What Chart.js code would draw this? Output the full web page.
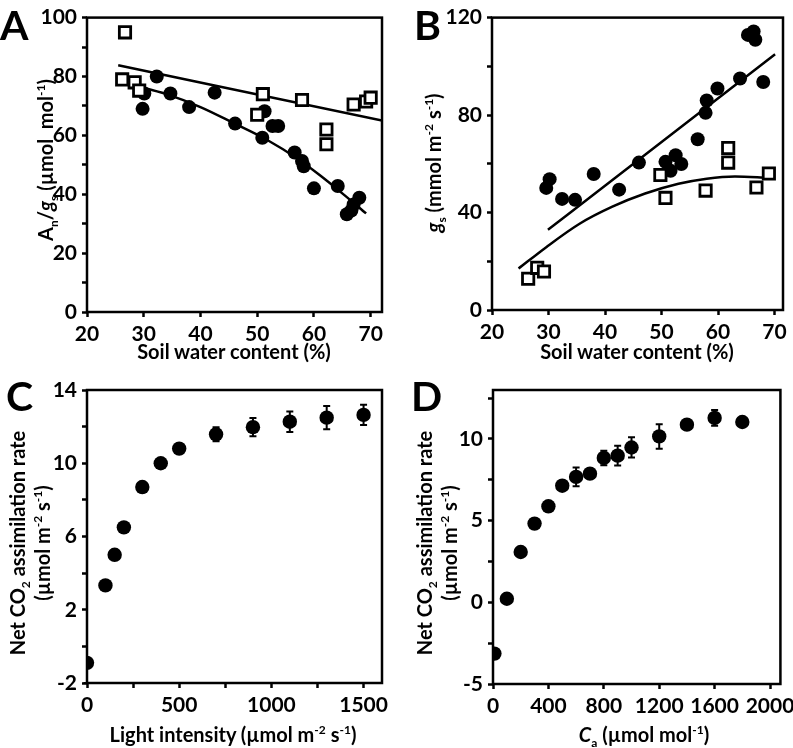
<!DOCTYPE html>
<html>
<head>
<meta charset="utf-8">
<script src="https://cdn.jsdelivr.net/npm/chart.js@4.4.1/dist/chart.umd.min.js"></script>
<style>
html, body { margin: 0; padding: 0; background: #fff; }
body { width: 793px; height: 748px; overflow: hidden; position: relative; font-family: Lato, 'Open Sans', sans-serif; font-weight: bold; color: #000; }
canvas { position: absolute; }
.lbl { position: absolute; white-space: nowrap; font-size: 20px; line-height: 1; }
.two { text-align: center; line-height: 25px; }
.rot { transform: translate(-50%, -50%) rotate(-90deg); }
.hz { transform: translate(-50%, -50%); }
.panel { position: absolute; font-size: 41px; line-height: 1; }
sub, sup { font-size: 0.6em; line-height: 0; }
</style>
</head>
<body>
<canvas id="chartA" width="400" height="372" style="left:0;top:0"></canvas>
<canvas id="chartB" width="400" height="372" style="left:400px;top:0"></canvas>
<canvas id="chartC" width="400" height="378" style="left:0;top:370px"></canvas>
<canvas id="chartD" width="400" height="378" style="left:400px;top:370px"></canvas>

<div class="panel" style="left:0;top:4px">A</div>
<div class="panel" style="left:414px;top:4px">B</div>
<div class="panel" style="left:6px;top:375px">C</div>
<div class="panel" style="left:411px;top:375px">D</div>

<div class="lbl rot" style="left:45px;top:160px">A<sub>n</sub>/<i>g</i><sub>s</sub> (µmol&nbsp; mol<sup>-1</sup>)</div>
<div class="lbl hz" style="left:234px;top:351px">Soil water content (%)</div>
<div class="lbl rot" style="left:433px;top:163px"><i>g</i><sub>s</sub> (mmol m<sup>-2</sup> s<sup>-1</sup>)</div>
<div class="lbl hz" style="left:637px;top:351px">Soil water content (%)</div>
<div class="lbl two rot" style="left:30px;top:543px">Net CO<sub>2</sub> assimilation rate<br>(µmol m<sup>-2</sup> s<sup>-1</sup>)</div>
<div class="lbl hz" style="left:233px;top:734px">Light intensity (µmol m<sup>-2</sup> s<sup>-1</sup>)</div>
<div class="lbl two rot" style="left:437px;top:543px">Net CO<sub>2</sub> assimilation rate<br>(µmol m<sup>-2</sup> s<sup>-1</sup>)</div>
<div class="lbl hz" style="left:644px;top:734px"><i>C</i><sub>a</sub> (µmol mol<sup>-1</sup>)</div>

<script>
// panel A: An/gs vs soil water content
const swcCirclesA = [29.8, 30.1, 32.3, 34.7, 38.0, 42.5, 46.1, 50.9, 51.3, 52.7, 53.7, 56.6, 57.9, 58.2, 60.0, 64.2, 65.8, 66.6, 67.0, 68.0];
const ratioCircles = [69, 74.2, 80, 74.2, 69.6, 74.5, 64, 59.2, 68.2, 63.2, 63.2, 54.2, 51.3, 49.5, 42, 42.8, 33.2, 34.5, 36.5, 38.8];
const swcSquaresA = [26.7, 26.2, 28.4, 29.2, 50.0, 51.0, 57.9, 62.2, 62.2, 67.0, 69.2, 70.0];
const ratioSquares = [95, 79, 78, 75.2, 67, 74, 72, 62, 57, 70.5, 71.5, 72.8];
const fitSquaresAx = [25.5, 72];
const fitSquaresAy = [83.8, 65.0];
const fitCirclesAx = [25.5, 30, 34, 40, 45.8, 51.7, 57, 61, 65, 69.2];
const fitCirclesAy = [78, 76.1, 74, 69.6, 64.2, 58.5, 52.2, 46.5, 40.3, 33.5];

// panel B: gs vs soil water content
const swcCirclesB = [29.6, 30.2, 32.4, 34.7, 38.0, 42.5, 46.0, 50.7, 51.6, 52.5, 53.5, 56.4, 57.8, 58.0, 59.9, 63.9, 65.3, 66.3, 66.6, 68.0];
const gsCircles = [50.1, 53.7, 45.6, 45.2, 55.8, 49.4, 60.5, 60.8, 57.1, 63.5, 59.9, 70.1, 80.9, 86.0, 90.9, 95.0, 112.9, 114.3, 110.9, 93.6];
const swcSquaresB = [26.4, 28.0, 29.2, 49.8, 50.7, 57.8, 61.8, 61.8, 66.8, 69.0];
const gsSquares = [12.8, 17.3, 15.8, 55.4, 46, 49, 66.5, 60.5, 50.3, 56];
const fitCirclesBx = [29.9, 70.1];
const fitCirclesBy = [32.9, 105];
const fitSquaresBx = [24.7, 29.6, 35.5, 41.3, 47.1, 53, 58, 63, 68.9];
const fitSquaresBy = [17, 25.8, 35.4, 42.4, 47.8, 51.8, 53.9, 54.8, 54.2];

// panel C: light response
const light = [0, 100, 150, 200, 300, 400, 500, 700, 900, 1100, 1300, 1500];
const rateLight = [-0.9, 3.33, 5.0, 6.5, 8.7, 10.0, 10.8, 11.58, 11.97, 12.27, 12.49, 12.64];
const errLightLow = [1.1, 0, 0, 0, 0, 0, 0, 0.38, 0.5, 0.56, 0.64, 0.55];
const errLightHigh = [0, 0, 0, 0, 0, 0, 0, 0.38, 0.5, 0.56, 0.64, 0.55];

// panel D: CO2 response
const ca = [10, 100, 200, 300, 400, 500, 600, 700, 800, 900, 1000, 1200, 1400, 1600, 1800];
const rateCa = [-3.14, 0.22, 3.08, 4.82, 5.88, 7.14, 7.68, 7.88, 8.84, 8.98, 9.48, 10.16, 10.88, 11.29, 11.04];
const errCa = [0, 0, 0, 0, 0, 0, 0.57, 0, 0.44, 0.6, 0.62, 0.75, 0, 0.48, 0];

// tick marks and which of them carry a label
const ticksSwc = [20, 30, 40, 50, 60, 70];
const ticksA = [0, 10, 20, 30, 40, 50, 60, 70, 80, 90, 100];
const labelsA = [0, 20, 40, 60, 80, 100];
const ticksB = [0, 20, 40, 60, 80, 100, 120];
const labelsB = [0, 40, 80, 120];
const ticksLight = [0, 250, 500, 750, 1000, 1250, 1500];
const labelsLight = [0, 500, 1000, 1500];
const ticksRateC = [-2, 0, 2, 4, 6, 8, 10, 12, 14];
const labelsRateC = [-2, 2, 6, 10, 14];
const ticksCa = [0, 400, 800, 1200, 1600, 2000];
const ticksRateD = [-5, -2.5, 0, 2.5, 5, 7.5, 10, 12.5];
const labelsRateD = [-5, 0, 5, 10];

const pts = (xs, ys) => xs.map((x, i) => ({ x: x, y: ys[i] }));

const frameBox = {
    id: 'frameBox',
    afterDraw(chart) {
        const a = chart.chartArea;
        const ctx = chart.ctx;
        ctx.save();
        ctx.strokeStyle = '#000';
        ctx.lineWidth = 2.5;
        ctx.strokeRect(a.left, a.top, a.right - a.left, a.bottom - a.top);
        ctx.restore();
    }
};

const errorBars = {
    id: 'errorBars',
    beforeDatasetsDraw(chart, args, opts) {
        if (!opts.low) return;
        const ctx = chart.ctx;
        const xs = chart.scales.x, ys = chart.scales.y;
        ctx.save();
        ctx.strokeStyle = '#000';
        ctx.lineWidth = 2;
        chart.data.datasets[0].data.forEach((p, i) => {
            const lo = opts.low[i], hi = opts.high[i];
            if (!lo && !hi) return;
            const px = xs.getPixelForValue(p.x);
            const y1 = ys.getPixelForValue(p.y - lo);
            const y2 = ys.getPixelForValue(p.y + hi);
            ctx.beginPath();
            ctx.moveTo(px, y1);
            ctx.lineTo(px, y2);
            if (lo) { ctx.moveTo(px - 3.5, y1); ctx.lineTo(px + 3.5, y1); }
            if (hi) { ctx.moveTo(px - 3.5, y2); ctx.lineTo(px + 3.5, y2); }
            ctx.stroke();
        });
        ctx.restore();
    }
};

function axis(min, max, ticks, labels, fit) {
    return {
        type: 'linear',
        min: min,
        max: max,
        afterFit: fit,
        afterBuildTicks: s => { s.ticks = ticks.map(v => ({ value: v })); },
        grid: { drawOnChartArea: false, drawTicks: true, tickLength: 5, tickWidth: 2.5, color: '#000' },
        border: { display: false },
        ticks: {
            autoSkip: false,
            maxRotation: 0,
            color: '#000',
            padding: 5,
            font: { family: 'Lato', size: 21, weight: 'bold' },
            callback: v => labels.includes(v) ? v : ''
        }
    };
}

function circles(data, r) {
    return { type: 'scatter', data: data, pointStyle: 'circle', pointRadius: r, pointBackgroundColor: '#000', pointBorderColor: '#000', pointBorderWidth: 0, order: 1 };
}
function squares(data) {
    return { type: 'scatter', data: data, pointStyle: 'rect', pointRadius: 8, pointBackgroundColor: '#fff', pointBorderColor: '#000', pointBorderWidth: 2.8, order: 1 };
}
function fitLine(data) {
    return { type: 'line', data: data, borderColor: '#000', borderWidth: 2.5, pointRadius: 0, cubicInterpolationMode: 'monotone', fill: false, order: 2 };
}

function makeChart(id, datasets, xAxis, yAxis, pad, errs) {
    const ctx = document.getElementById(id).getContext('2d');
    return new Chart(ctx, {
        type: 'scatter',
        data: { datasets: datasets },
        options: {
            responsive: false,
            animation: false,
            layout: { padding: pad },
            plugins: { legend: { display: false }, tooltip: { enabled: false }, errorBars: errs || {} },
            scales: { x: xAxis, y: yAxis }
        },
        plugins: [frameBox, errorBars]
    });
}

makeChart('chartA',
    [squares(pts(swcSquaresA, ratioSquares)), circles(pts(swcCirclesA, ratioCircles), 7),
     fitLine(pts(fitSquaresAx, fitSquaresAy)), fitLine(pts(fitCirclesAx, fitCirclesAy))],
    axis(20, 72, ticksSwc, ticksSwc, s => { s.height = 60; }),
    axis(0, 100, ticksA, labelsA, s => { s.width = 87; }),
    { top: 16, right: 18, left: 0, bottom: 0 });

makeChart('chartB',
    [squares(pts(swcSquaresB, gsSquares)), circles(pts(swcCirclesB, gsCircles), 7),
     fitLine(pts(fitCirclesBx, fitCirclesBy)), fitLine(pts(fitSquaresBx, fitSquaresBy))],
    axis(20, 71.5, ticksSwc, ticksSwc, s => { s.height = 62; }),
    axis(0, 120, ticksB, labelsB, s => { s.width = 92; }),
    { top: 15, right: 17, left: 0, bottom: 0 });

makeChart('chartC',
    [circles(pts(light, rateLight), 7.2)],
    axis(0, 1600, ticksLight, labelsLight, s => { s.height = 65; }),
    axis(-2, 14, ticksRateC, labelsRateC, s => { s.width = 87; }),
    { top: 20, right: 18, left: 0, bottom: 0 },
    { low: errLightLow, high: errLightHigh });

makeChart('chartD',
    [circles(pts(ca, rateCa), 7.2)],
    axis(0, 2075, ticksCa, ticksCa, s => { s.height = 64; }),
    axis(-5, 13, ticksRateD, labelsRateD, s => { s.width = 93; }),
    { top: 20, right: 17, left: 0, bottom: 0 },
    { low: errCa, high: errCa });
</script>
</body>
</html>
